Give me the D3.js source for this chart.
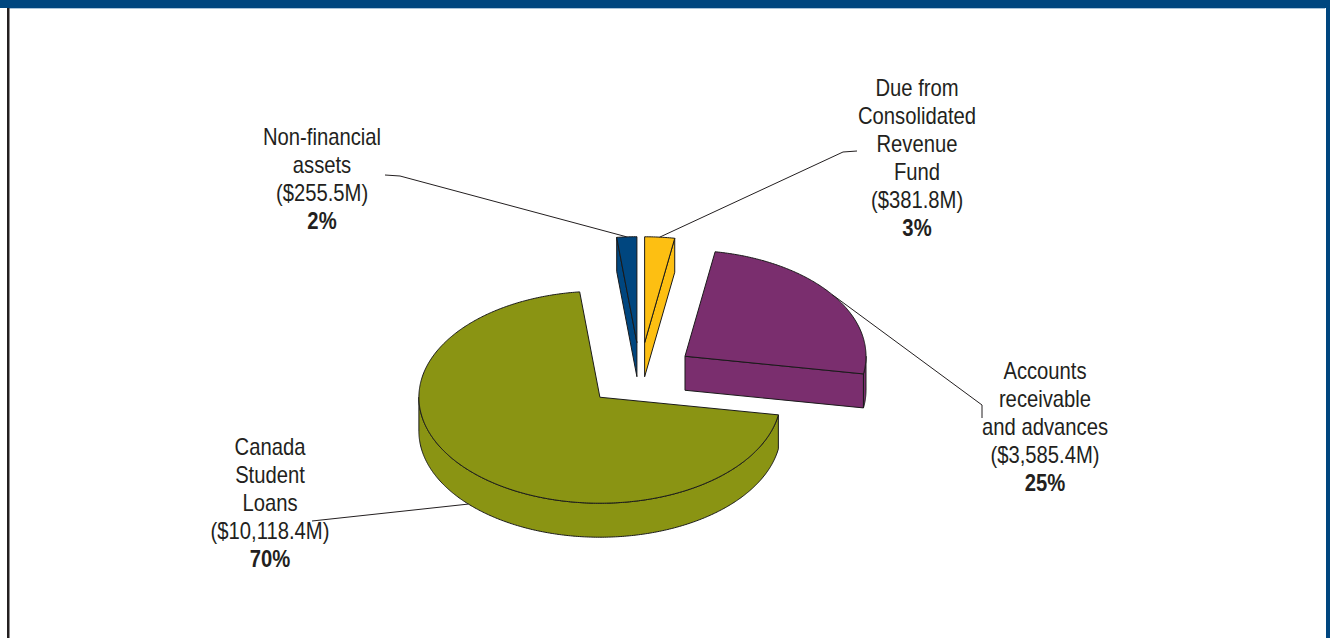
<!DOCTYPE html>
<html>
<head>
<meta charset="utf-8">
<script src="https://cdn.jsdelivr.net/npm/d3@7"></script>
<style>
  body { margin: 0; background: #fff; }
  svg { display: block; }
  text { font-family: "Liberation Sans", Arial, sans-serif; fill: #231f20; }
</style>
</head>
<body>
<div id="chart"></div>
<script>
// slices, clockwise from 12 o'clock
const categories = ["Due from Consolidated Revenue Fund", "Accounts receivable and advances", "Canada Student Loans", "Non-financial assets"];
const values = [381.8, 3585.4, 10118.4, 255.5];
const amountLabels = ["($381.8M)", "($3,585.4M)", "($10,118.4M)", "($255.5M)"];
const percentLabels = ["3%", "25%", "70%", "2%"];
const labelLines = [
  ["Due from", "Consolidated", "Revenue", "Fund"],
  ["Accounts", "receivable", "and advances"],
  ["Canada", "Student", "Loans"],
  ["Non-financial", "assets"]
];
const colors = ["#FDBF12", "#7A2E6E", "#8A9413", "#00467F"];

// label placement: centre x, first line centre y, leader elbow points (label side first)
const labelPos = [
  { x: 917, y: 88, elbow: [[857, 151], [843, 152]] },
  { x: 1045, y: 371, elbow: [[982, 418], [982, 405]] },
  { x: 270, y: 447, elbow: [[312, 521]] },
  { x: 322, y: 137, elbow: [[385, 175], [400, 176]] }
];

const width = 1330, height = 638;
const svg = d3.select("#chart").append("svg")
    .attr("width", width)
    .attr("height", height);

// frame
svg.append("rect").attr("x", 0).attr("y", 0).attr("width", width).attr("height", 8).attr("fill", "#00467F");
svg.append("line").attr("x1", 9).attr("x2", 1325).attr("y1", 8.5).attr("y2", 8.5).attr("stroke", "#a9c3da");
svg.append("rect").attr("x", 7).attr("y", 8).attr("width", 2.5).attr("height", height - 8).attr("fill", "#231f20");
svg.append("rect").attr("x", 1326).attr("y", 0).attr("width", 4).attr("height", height).attr("fill", "#00467F");

// 3D pie geometry
const cx = 640, cy = 375, rx = 181, ry = 106, depth = 34, explode = 0.305;

const pie = d3.pie().sort(null).value(d => d)(values);
const toScreen = a => a - Math.PI / 2;
const pt = (ox, oy, t, dz = 0) => [ox + rx * Math.cos(t), oy + ry * Math.sin(t) + dz];
const arcPts = (ox, oy, a, b, dz = 0) => {
  const n = Math.max(2, Math.ceil(Math.abs(b - a) / 0.01));
  return d3.range(n + 1).map(k => pt(ox, oy, a + (b - a) * k / n, dz));
};
const line = d3.line();
const poly = pts => line(pts) + "Z";

const slices = pie.map((p, i) => {
  const t1 = toScreen(p.startAngle), t2 = toScreen(p.endAngle), mid = (t1 + t2) / 2;
  return {
    i, t1, t2, mid,
    ox: cx + explode * rx * Math.cos(mid),
    oy: cy + explode * ry * Math.sin(mid)
  };
});

const g = svg.append("g")
    .attr("stroke", "#1a1a1a")
    .attr("stroke-width", 1)
    .attr("stroke-linejoin", "round");

// back to front
slices.slice().sort((a, b) => a.oy - b.oy).forEach(s => {
  const fill = colors[s.i];
  const apex = [s.ox, s.oy], apexB = [s.ox, s.oy + depth];
  // radial cut faces
  if (Math.cos(s.t1) < 0) {
    g.append("path").attr("fill", fill)
      .attr("d", poly([apex, pt(s.ox, s.oy, s.t1), pt(s.ox, s.oy, s.t1, depth), apexB]));
  }
  if (Math.cos(s.t2) > 0) {
    g.append("path").attr("fill", fill)
      .attr("d", poly([apex, pt(s.ox, s.oy, s.t2), pt(s.ox, s.oy, s.t2, depth), apexB]));
  }
  // outer curved wall, front half only
  [0, 2 * Math.PI].forEach(k => {
    const a = Math.max(s.t1, k), b = Math.min(s.t2, k + Math.PI);
    if (b > a) {
      g.append("path").attr("fill", fill)
        .attr("d", poly(arcPts(s.ox, s.oy, a, b).concat(arcPts(s.ox, s.oy, b, a, depth))));
    }
  });
  // top face
  g.append("path").attr("fill", fill)
    .attr("d", poly([apex].concat(arcPts(s.ox, s.oy, s.t1, s.t2))));
});

// leader lines
slices.forEach(s => {
  const lp = labelPos[s.i];
  const anchor = pt(s.ox, s.oy, s.mid, Math.sin(s.mid) > 0 ? depth : 0);
  svg.append("path")
    .attr("fill", "none")
    .attr("stroke", "#231f20")
    .attr("stroke-width", 1)
    .attr("d", line(lp.elbow.concat([anchor])));
});

// labels
const fontSize = 23, lineH = 28, sx = 0.88;
slices.forEach(s => {
  const lp = labelPos[s.i];
  const rows = labelLines[s.i].concat([amountLabels[s.i], percentLabels[s.i]]);
  rows.forEach((r, k) => {
    svg.append("text")
      .attr("transform", `translate(${lp.x},${lp.y + k * lineH}) scale(${sx},1)`)
      .attr("text-anchor", "middle")
      .attr("dy", "0.36em")
      .attr("font-size", fontSize)
      .attr("font-weight", k === rows.length - 1 ? "bold" : "normal")
      .text(r);
  });
});
</script>
</body>
</html>
